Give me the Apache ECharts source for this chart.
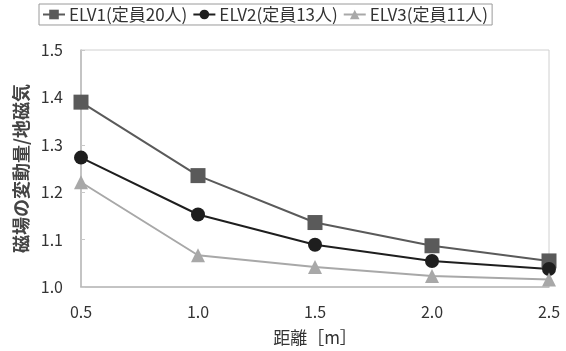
<!DOCTYPE html>
<html>
<head>
<meta charset="utf-8">
<script src="https://cdn.jsdelivr.net/npm/echarts@6/dist/echarts.min.js"></script>
<style>
  html, body { margin: 0; padding: 0; background: #fff; }
  #chart { width: 566px; height: 351px; }
</style>
</head>
<body>
<div id="chart"></div>
<script>
// Distance from the elevator [m]
const distances = ['0.5', '1.0', '1.5', '2.0', '2.5'];
// Magnetic field variation relative to the geomagnetic field
const elv1 = [1.39, 1.235, 1.136, 1.087, 1.055];
const elv2 = [1.273, 1.153, 1.089, 1.055, 1.038];
const elv3 = [1.221, 1.067, 1.042, 1.023, 1.016];
const seriesNames = ['ELV1(定員20人)', 'ELV2(定員13人)', 'ELV3(定員11人)'];

const chart = echarts.init(document.getElementById('chart'));
const font = '"Noto Sans CJK JP", "Liberation Sans", sans-serif';

function line(name, data, color, symbol, size) {
  return {
    name, type: 'line', data,
    symbol, symbolSize: size,
    lineStyle: { color, width: 2 },
    itemStyle: { color },
    emphasis: { disabled: true }
  };
}

chart.setOption({
  animation: false,
  textStyle: { fontFamily: font },
  legend: {
    top: 4, left: 39,
    padding: [2, 4, 2, 3],
    itemGap: 5, itemWidth: 22, itemHeight: 12,
    borderColor: '#9a9a9a', borderWidth: 1,
    textStyle: { fontSize: 17, color: '#333', fontFamily: font, padding: [0, 0, 0, -1] }
  },
  grid: { left: 81, right: 17, top: 50, bottom: 62, show: true, borderColor: '#d0d0d0', borderWidth: 1 },
  xAxis: {
    type: 'category', data: distances, boundaryGap: false,
    name: '距離［m］', nameLocation: 'middle', nameGap: 42,
    nameTextStyle: { fontSize: 17, color: '#333' },
    axisLine: { lineStyle: { color: '#b8b8b8', width: 1.5 } },
    axisTick: { show: false },
    axisLabel: { fontSize: 16, color: '#333', margin: 17 },
    splitLine: { show: false }
  },
  yAxis: {
    type: 'value', min: 1.0, max: 1.5, interval: 0.1,
    name: '磁場の変動量/地磁気', nameLocation: 'middle', nameGap: 47,
    nameTextStyle: { fontSize: 18, color: '#444', fontWeight: 'bold' },
    axisLine: { show: true, lineStyle: { color: '#b8b8b8', width: 1.5 } },
    axisTick: { show: true, inside: true, length: 4, lineStyle: { color: '#c8c8c8' } },
    axisLabel: { fontSize: 16, color: '#333', margin: 18, formatter: v => v.toFixed(1) },
    splitLine: { show: false }
  },
  series: [
    line(seriesNames[0], elv1, '#5a5a5a', 'rect', 15),
    line(seriesNames[1], elv2, '#1e1e1e', 'circle', 14),
    line(seriesNames[2], elv3, '#a8a8a8', 'triangle', 14)
  ]
});
</script>
</body>
</html>
